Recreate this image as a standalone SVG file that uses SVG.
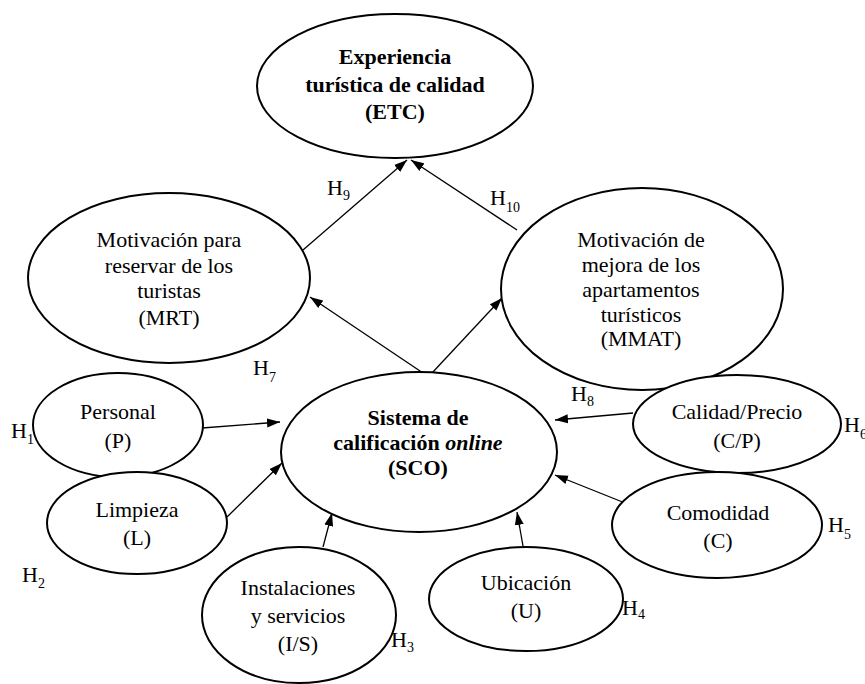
<svg xmlns="http://www.w3.org/2000/svg" width="865" height="684" viewBox="0 0 865 684">
<style>
.n{fill:#fff;stroke:#000;stroke-width:2}
.t{font-family:"Liberation Serif","Times New Roman",serif;font-size:22px;fill:#000;text-anchor:middle}
.b{font-weight:bold}
.h{font-family:"Liberation Serif","Times New Roman",serif;font-size:22px;fill:#000}
.s{font-size:14px}
.c line{stroke:#000;stroke-width:1.3;marker-end:url(#a)}
</style>
<defs>
<marker id="a" markerUnits="userSpaceOnUse" markerWidth="14" markerHeight="10" refX="13" refY="5" orient="auto">
<path d="M0,0.5 L13,5 L0,9.5 z" fill="#000"/>
</marker>
</defs>
<rect width="865" height="684" fill="#fff"/>
<g id="connectors" class="c">
<line x1="303" y1="250" x2="407" y2="160"/>
<line x1="517" y1="230" x2="411" y2="160"/>
<line x1="423" y1="373" x2="310" y2="297"/>
<line x1="432" y1="373" x2="502" y2="298"/>
<line x1="202" y1="428" x2="280" y2="422"/>
<line x1="227" y1="517" x2="282" y2="463"/>
<line x1="323" y1="547" x2="332" y2="513"/>
<line x1="523" y1="546" x2="517" y2="512"/>
<line x1="633" y1="413" x2="555" y2="420"/>
<line x1="625" y1="503" x2="555" y2="475"/>
</g>
<g id="ETC">
<ellipse class="n" cx="395" cy="86" rx="138" ry="72"/>
<text class="t b" x="395" y="64">Experiencia</text>
<text class="t b" x="395" y="92">turística de calidad</text>
<text class="t b" x="395" y="119">(ETC)</text>
</g>
<g id="MRT">
<ellipse class="n" cx="169" cy="278" rx="141" ry="85"/>
<text class="t" x="169" y="247">Motivación para</text>
<text class="t" x="169" y="273">reservar de los</text>
<text class="t" x="169" y="298">turistas</text>
<text class="t" x="169" y="325">(MRT)</text>
</g>
<g id="MMAT">
<ellipse class="n" cx="642" cy="289" rx="141" ry="101"/>
<text class="t" x="641" y="247">Motivación de</text>
<text class="t" x="641" y="272">mejora de los</text>
<text class="t" x="641" y="297">apartamentos</text>
<text class="t" x="641" y="322">turísticos</text>
<text class="t" x="641" y="346">(MMAT)</text>
</g>
<g id="SCO">
<ellipse class="n" cx="419" cy="452" rx="138" ry="80"/>
<text class="t b" x="418" y="425">Sistema de</text>
<text class="t b" x="418" y="450">calificación <tspan font-style="italic">online</tspan></text>
<text class="t b" x="418" y="475">(SCO)</text>
</g>
<g id="P">
<ellipse class="n" cx="118" cy="425" rx="85" ry="52"/>
<text class="t" x="118" y="419">Personal</text>
<text class="t" x="118" y="448">(P)</text>
</g>
<g id="L">
<ellipse class="n" cx="137" cy="523" rx="90" ry="51"/>
<text class="t" x="137" y="517">Limpieza</text>
<text class="t" x="137" y="545">(L)</text>
</g>
<g id="IS">
<ellipse class="n" cx="299" cy="615" rx="97" ry="68"/>
<text class="t" x="298" y="595">Instalaciones</text>
<text class="t" x="298" y="623">y servicios</text>
<text class="t" x="298" y="651">(I/S)</text>
</g>
<g id="U">
<ellipse class="n" cx="526" cy="599" rx="97" ry="52"/>
<text class="t" x="526" y="590">Ubicación</text>
<text class="t" x="526" y="618">(U)</text>
</g>
<g id="CP">
<ellipse class="n" cx="737" cy="424" rx="104" ry="49"/>
<text class="t" x="737" y="419">Calidad/Precio</text>
<text class="t" x="737" y="448">(C/P)</text>
</g>
<g id="C">
<ellipse class="n" cx="717" cy="525" rx="105" ry="53"/>
<text class="t" x="718" y="520">Comodidad</text>
<text class="t" x="718" y="548">(C)</text>
</g>
<g id="labels">
<text class="h" x="327" y="195">H<tspan class="s" dy="5">9</tspan></text>
<text class="h" x="490" y="205">H<tspan class="s" dy="7">10</tspan></text>
<text class="h" x="253" y="375">H<tspan class="s" dy="7">7</tspan></text>
<text class="h" x="571" y="401">H<tspan class="s" dy="5">8</tspan></text>
<text class="h" x="11" y="438">H<tspan class="s" dy="6">1</tspan></text>
<text class="h" x="22" y="582">H<tspan class="s" dy="6">2</tspan></text>
<text class="h" x="391" y="647">H<tspan class="s" dy="5">3</tspan></text>
<text class="h" x="622" y="615">H<tspan class="s" dy="4">4</tspan></text>
<text class="h" x="828" y="532">H<tspan class="s" dy="7">5</tspan></text>
<text class="h" x="844" y="432">H<tspan class="s" dy="7">6</tspan></text>
</g>
</svg>
